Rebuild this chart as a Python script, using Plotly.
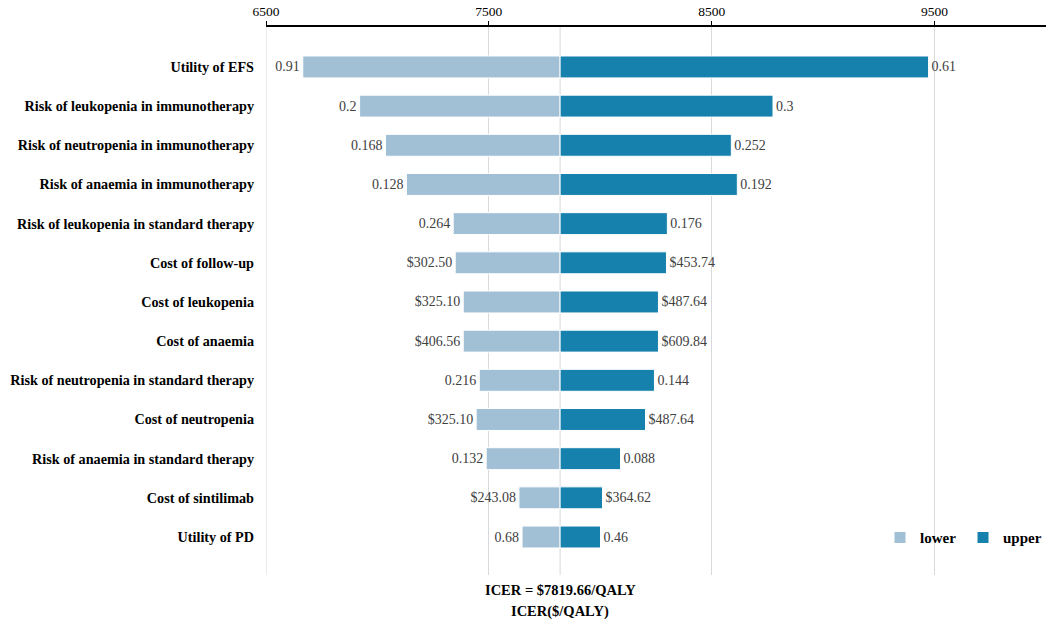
import plotly.graph_objects as go

# tornado diagram, one-way sensitivity on ICER
params = ['Utility of EFS', 'Risk of leukopenia in immunotherapy', 'Risk of neutropenia in immunotherapy',
          'Risk of anaemia in immunotherapy', 'Risk of leukopenia in standard therapy', 'Cost of follow-up',
          'Cost of leukopenia', 'Cost of anaemia', 'Risk of neutropenia in standard therapy',
          'Cost of neutropenia', 'Risk of anaemia in standard therapy', 'Cost of sintilimab', 'Utility of PD']
icer_lower = [6665, 6920, 7036, 7130, 7340, 7349, 7385, 7385, 7457, 7443, 7488, 7635, 7649]
icer_upper = [9473, 8775, 8588, 8615, 8301, 8297, 8261, 8261, 8243, 8203, 8091, 8010, 8001]
lower_labels = ['0.91', '0.2', '0.168', '0.128', '0.264', '$302.50', '$325.10', '$406.56', '0.216',
                '$325.10', '0.132', '$243.08', '0.68']
upper_labels = ['0.61', '0.3', '0.252', '0.192', '0.176', '$453.74', '$487.64', '$609.84', '0.144',
                '$487.64', '0.088', '$364.62', '0.46']
base_icer = 7819.66

serif = 'Liberation Serif, Times New Roman, serif'
light = 'rgb(161, 192, 214)'
dark = 'rgb(22, 129, 173)'

fig = go.Figure()
fig.add_trace(go.Bar(
    name='lower', y=params, x=[v - base_icer for v in icer_lower], base=base_icer,
    orientation='h', marker=dict(color=light, line=dict(color='white', width=1)),
    text=lower_labels, textposition='outside', cliponaxis=False,
    textfont=dict(family=serif, size=14, color='#404040'), hoverinfo='skip'
))
fig.add_trace(go.Bar(
    name='upper', y=params, x=[v - base_icer for v in icer_upper], base=base_icer,
    orientation='h', marker=dict(color=dark, line=dict(color='white', width=1)),
    text=upper_labels, textposition='outside', cliponaxis=False,
    textfont=dict(family=serif, size=14, color='#404040'), hoverinfo='skip'
))

fig.update_layout(
    width=1052, height=624,
    barmode='overlay', bargap=0.44,
    plot_bgcolor='white', paper_bgcolor='white',
    margin=dict(l=266, r=6, t=27, b=49, autoexpand=False),
    font=dict(family=serif, size=14, color='black'),
    showlegend=True,
    legend=dict(orientation='h', x=1.0, y=0.068, xanchor='right', yanchor='middle',
                font=dict(family=serif, size=15, color='black', weight='bold'),
                traceorder='normal', itemwidth=30, entrywidth=38, bgcolor='rgba(0,0,0,0)'),
    xaxis=dict(
        side='top', range=[6500, 10000], dtick=1000, tick0=6500, tickformat='d',
        showgrid=True, gridcolor='#d9d9d9', gridwidth=1,
        showline=True, linecolor='black', linewidth=1.5,
        ticks='outside', ticklen=4, tickcolor='black', automargin=False,
        tickfont=dict(family=serif, size=13.5, color='black'),
        zeroline=False
    ),
    yaxis=dict(
        categoryorder='array', categoryarray=params, range=[12.97, -1.02],
        showgrid=False, showline=False, ticks='', ticklabelstandoff=11, automargin=False,
        tickfont=dict(family=serif, size=14.2, color='black', weight='bold')
    ),
    shapes=[
        dict(type='line', xref='x', yref='paper', x0=base_icer, x1=base_icer, y0=0, y1=1,
             line=dict(color='#d9d9d9', width=1), layer='below'),
        dict(type='line', xref='x', yref='paper', x0=6500, x1=6500, y0=0, y1=1,
             line=dict(color='#d9d9d9', width=1), layer='below'),
    ],
    annotations=[
        dict(text='<b>ICER = $7819.66/QALY</b>', xref='x', yref='paper', x=base_icer, y=-0.027,
             yanchor='middle', showarrow=False, font=dict(family=serif, size=14.5)),
        dict(text='<b>ICER($/QALY)</b>', xref='x', yref='paper', x=base_icer, y=-0.066,
             yanchor='middle', showarrow=False, font=dict(family=serif, size=14.5)),
    ]
)

# drop the default 8px body margin so the figure fills the window exactly
fig.write_html('out.html', config={'displayModeBar': False},
               post_script="document.body.style.margin = '0';")
